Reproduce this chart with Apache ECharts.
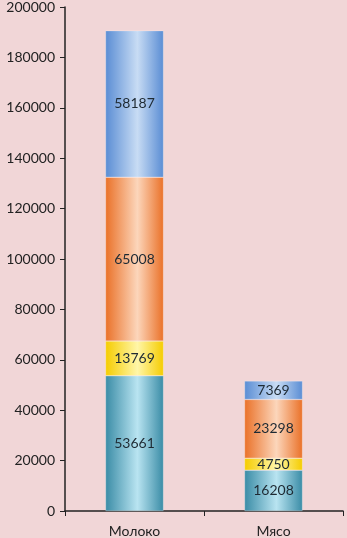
<!DOCTYPE html>
<html><head><meta charset="utf-8">
<script src="https://cdn.jsdelivr.net/npm/echarts@6/dist/echarts.min.js"></script>
<style>html,body{margin:0;padding:0;background:#f1d6d7;}#c{width:347px;height:538px;}</style>
</head><body><div id="c"></div>
<script>
const categories = ['Молоко', 'Мясо'];
const series1 = [53661, 16208];
const series2 = [13769, 4750];
const series3 = [65008, 23298];
const series4 = [58187, 7369];
const yTicks = [0, 20000, 40000, 60000, 80000, 100000, 120000, 140000, 160000, 180000, 200000];

function grad(edge, mid) {
  return {type:'linear', x:0, y:0, x2:1, y2:0, colorStops:[
    {offset:0, color:edge},{offset:0.55, color:mid},{offset:1, color:edge}]};
}
const styles = [
  grad('#3a8ca6', '#b9e4f1'),
  grad('#f5cc00', '#fff6a8'),
  grad('#ea7128', '#fcd6bb'),
  grad('#5a8dd4', '#c8dcf4')
];
const data = [series1, series2, series3, series4];
const chart = echarts.init(document.getElementById('c'));
const font = 'Lato, "Open Sans", sans-serif';
chart.setOption({
  backgroundColor:'#f1d6d7',
  animation:false,
  grid:{left:65, right:4, top:6, bottom:27},
  xAxis:{type:'category', data:categories,
    axisLine:{lineStyle:{color:'#222', width:1.5}},
    axisTick:{show:true, length:5, lineStyle:{color:'#222'}},
    axisLabel:{color:'#222', fontSize:14, fontFamily:font, margin:13}},
  yAxis:{type:'value', min:yTicks[0], max:yTicks[yTicks.length-1], interval:20000,
    axisLine:{show:true, lineStyle:{color:'#222', width:1.5}},
    axisTick:{show:true, length:5, lineStyle:{color:'#222'}},
    splitLine:{show:false},
    axisLabel:{color:'#222', fontSize:14, fontFamily:font, margin:10, formatter:v=>String(v)}},
  series: data.map((d,i)=>({
    type:'bar', stack:'a', data:d, barWidth:58,
    itemStyle:{color:styles[i], borderColor:'rgba(255,255,255,0.5)', borderWidth:0.5},
    label:{show:true, position:'inside', color:'#1e2a33', fontSize:14, fontFamily:font}
  }))
});
</script></body></html>
